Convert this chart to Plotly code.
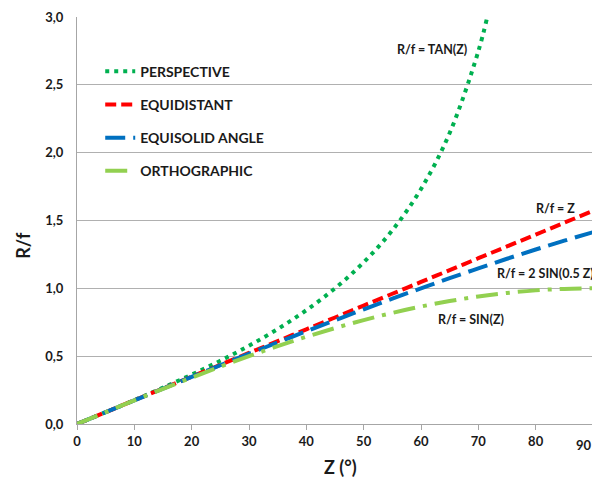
import plotly.graph_objects as go

# Zenith angle (degrees)
z_deg = [0, 5, 10, 15, 20, 25, 30, 35, 40, 45, 50, 55, 60, 65, 70, 75, 80, 85, 90]
z_tan = [0, 5, 10, 15, 20, 25, 30, 35, 40, 45, 50, 55, 60, 65, 70, 71.5]

perspective = [0, 0.087, 0.176, 0.268, 0.364, 0.466, 0.577, 0.700, 0.839, 1.000,
               1.192, 1.428, 1.732, 2.145, 2.747, 2.99]
equidistant = [0, 0.087, 0.175, 0.262, 0.349, 0.436, 0.524, 0.611, 0.698, 0.785,
               0.873, 0.960, 1.047, 1.134, 1.222, 1.309, 1.396, 1.484, 1.571]
equisolid = [0, 0.087, 0.174, 0.261, 0.347, 0.433, 0.518, 0.601, 0.684, 0.765,
             0.845, 0.924, 1.000, 1.075, 1.147, 1.218, 1.286, 1.351, 1.414]
orthographic = [0, 0.087, 0.174, 0.259, 0.342, 0.423, 0.500, 0.574, 0.643, 0.707,
                0.766, 0.819, 0.866, 0.906, 0.940, 0.966, 0.985, 0.996, 1.000]

y_ticks = [0, 0.5, 1.0, 1.5, 2.0, 2.5, 3.0]
x_ticks = [0, 10, 20, 30, 40, 50, 60, 70, 80, 90]
x_tick_labels = ["0", "10", "20", "30", "40", "50", "60", "70", "80", "90"]

FONT = "Lato"
fig = go.Figure()
fig.add_trace(go.Scatter(x=z_tan, y=perspective, mode="lines", name="PERSPECTIVE",
                         legendgroup="a", line=dict(color="#00b050", width=4, dash="4px,5px", shape="spline")))
fig.add_trace(go.Scatter(x=z_deg, y=equidistant, mode="lines", name="EQUIDISTANT",
                         legendgroup="b", line=dict(color="#ff0000", width=4, dash="11px,5px", shape="spline")))
fig.add_trace(go.Scatter(x=z_deg, y=equisolid, mode="lines", name="EQUISOLID ANGLE",
                         legendgroup="c", line=dict(color="#0070c0", width=4, dash="20px,8px", shape="spline")))
fig.add_trace(go.Scatter(x=z_deg, y=orthographic, mode="lines", name="ORTHOGRAPHIC",
                         legendgroup="d", line=dict(color="#92d050", width=4, dash="22px,8px,4px,8px", shape="spline")))

ann_font = dict(family=FONT, size=12.5, color="#1a1a1a")
anns = [
    dict(x=62.0, y=2.76, text="<b>R/f = TAN(Z)</b>"),
    dict(x=83.5, y=1.585, text="<b>R/f = Z</b>"),
    dict(x=81.8, y=1.113, text="<b>R/f = 2 SIN(0.5 Z)</b>"),
    dict(x=68.8, y=0.767, text="<b>R/f = SIN(Z)</b>"),
]
for a in anns:
    fig.add_annotation(x=a["x"], y=a["y"], text=a["text"], showarrow=False,
                       font=ann_font, xanchor="center", yanchor="middle")

# Axis titles
fig.add_annotation(xref="paper", yref="paper", x=-0.105, y=0.44, text="<b>R/f</b>",
                   textangle=-90, showarrow=False, xanchor="center", yanchor="middle",
                   font=dict(family=FONT, size=18, color="#1a1a1a"))
fig.add_annotation(xref="paper", yref="paper", x=0.511, y=-0.106, text="<b>Z (°)</b>",
                   showarrow=False, xanchor="center", yanchor="middle",
                   font=dict(family=FONT, size=18, color="#1a1a1a"))
# Last x tick label, kept inside the page edge
fig.add_annotation(xref="paper", yref="paper", x=1.0, y=-0.052,
                   text="<b>" + x_tick_labels[-1] + "</b>",
                   showarrow=False, xanchor="right", yanchor="middle", xshift=1,
                   font=dict(family=FONT, size=13, color="#1a1a1a"))

fig.update_layout(
    width=592, height=470,
    margin=dict(l=69, r=7, t=9, b=54),
    paper_bgcolor="white", plot_bgcolor="white",
    separators=",.",
    font=dict(family=FONT, size=13, color="#1a1a1a"),
    showlegend=True,
    legend=dict(x=0.045, y=0.905, xanchor="left", yanchor="top",
                traceorder="grouped", tracegroupgap=12,
                font=dict(family=FONT, size=14, color="#1a1a1a", weight="bold"),
                bgcolor="rgba(0,0,0,0)", itemwidth=30),
    xaxis=dict(range=[0, 90], tickvals=x_ticks, ticktext=x_tick_labels[:-1] + [""],
               showgrid=False, zeroline=False,
               showline=True, linecolor="#a6a6a6", linewidth=1, automargin=False,
               ticks="outside", ticklen=5, tickcolor="#a6a6a6",
               tickfont=dict(family=FONT, size=13, weight="bold")),
    yaxis=dict(range=[0, 3.0], tickvals=y_ticks, tickformat=".1f", showgrid=True,
               gridcolor="#b0b0b0", gridwidth=1, zeroline=False, automargin=False,
               showline=True, linecolor="#a6a6a6", linewidth=1,
               ticks="", ticklabelstandoff=10,
               tickfont=dict(family=FONT, size=13, weight="bold")),
)

fig.write_html("out.html")
